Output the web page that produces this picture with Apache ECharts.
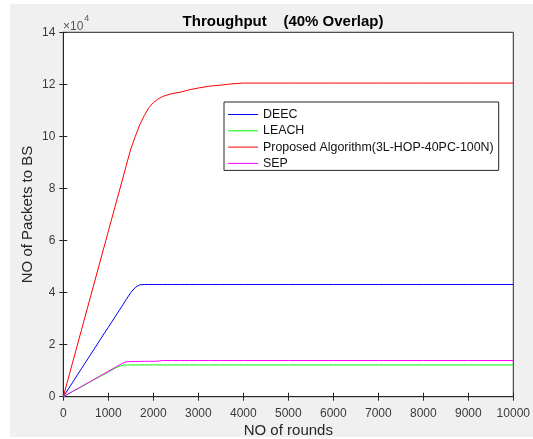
<!DOCTYPE html>
<html>
<head>
<meta charset="utf-8">
<script src="https://cdn.jsdelivr.net/npm/echarts@6/dist/echarts.min.js"></script>
<style>
html,body{margin:0;padding:0;background:#fff;}
#bg{position:absolute;left:10px;top:4px;width:523px;height:433px;background:#f0f0f0;}
#chart{position:absolute;left:0;top:0;width:533px;height:439px;}
</style>
</head>
<body>
<div id="bg"></div>
<div id="chart"></div>
<script>
const rounds = [0,200,400,600,800,1000,1200,1300,1400,1500,1600,1700,1800,1900,2000,2100,2200,2400,2600,2800,3000,3250,3500,3750,4000,5000,6000,7000,8000,9000,10000];
const deec = [0,5300,10700,16000,21400,26700,32000,34700,37400,40000,42000,43000,43100,43100,43100,43100,43100,43100,43100,43100,43100,43100,43100,43100,43100,43100,43100,43100,43100,43100,43100];
const leach = [0,1900,3800,5700,7600,9500,11400,12000,12200,12200,12200,12200,12200,12200,12200,12200,12200,12200,12200,12200,12200,12200,12200,12200,12200,12200,12200,12200,12200,12200,12200];
const proposed = [0,12700,25400,38100,50800,63500,76200,82500,88900,95200,100000,104500,108000,111000,113000,114300,115300,116400,117000,117900,118600,119300,119700,120200,120500,120500,120500,120500,120500,120500,120500];
const sep = [0,1950,3900,5850,7800,9750,11700,12700,13400,13500,13550,13550,13600,13600,13600,13650,13900,13900,13900,13900,13900,13900,13900,13900,13900,13900,13900,13900,13900,13900,13900];
const seriesNames = ['DEEC','LEACH','Proposed Algorithm(3L-HOP-40PC-100N)','SEP'];
const seriesColors = ['#0000ff','#00ff00','#ff0000','#ff00ff'];
const seriesValues = [deec, leach, proposed, sep];
const yScale = 10000;

const FONT = '"Liberation Sans", Arial, Helvetica, sans-serif';
const chart = echarts.init(document.getElementById('chart'), null, {renderer:'canvas'});
const axisColor = '#262626';
const labelColor = '#3a3a3a';

const option = {
  animation: false,
  backgroundColor: 'transparent',
  title: {
    text: 'Throughput    (40% Overlap)',
    left: 278, top: 9, textAlign: 'center',
    textStyle: {fontFamily: FONT, fontSize: 15, fontWeight: 'bold', color: '#000'}
  },
  graphic: [{
    type: 'text', left: 63, top: 14,
    style: {
      text: '{a|×10}{b|4}',
      rich: {
        a: {fontFamily: FONT, fontSize: 12, fill: '#555', padding:[7,0,0,0]},
        b: {fontFamily: FONT, fontSize: 9, fill: '#555', verticalAlign:'top', padding:[0,0,8,1]}
      }
    }
  }],
  legend: {
    orient: 'vertical',
    left: 224, top: 102,
    padding: [6.5, 5, 1, 4],
    itemGap: 4.3,
    itemWidth: 30, itemHeight: 12,
    icon: 'path://M0,0H30V1H0Z',
    symbolKeepAspect: true,
    backgroundColor: '#fff',
    borderColor: axisColor, borderWidth: 1,
    borderRadius: 0,
    textStyle: {fontFamily: FONT, fontSize: 12.4, color: '#111', padding:[0,0,0,0]},
    data: seriesNames
  },
  grid: {
    left: 63.3, top: 32.3, right: 19.7, bottom: 42.3,
    outerBoundsMode: 'none', containLabel: false,
    show: true, backgroundColor: '#fff', borderColor: axisColor, borderWidth: 1
  },
  xAxis: [{
    type: 'value', min: 0, max: 10000, interval: 1000,
    name: 'NO of rounds', nameLocation: 'middle', nameGap: 27, nameMoveOverlap: false,
    nameTextStyle: {fontFamily: FONT, fontSize: 15, color: '#262626'},
    axisLine: {show: true, lineStyle: {color: axisColor}},
    axisTick: {show: true, inside: true, length: 4, lineStyle: {color: axisColor}},
    axisLabel: {fontFamily: FONT, fontSize: 12, color: labelColor, margin: 11,
      formatter: v => String(v)},
    splitLine: {show: false}
  }, {
    type: 'value', min: 0, max: 10000, interval: 1000, position: 'top',
    axisLine: {show: true, lineStyle: {color: axisColor}},
    axisTick: {show: true, inside: true, length: 4, lineStyle: {color: axisColor}},
    axisLabel: {show: false}, splitLine: {show: false}
  }],
  yAxis: [{
    type: 'value', min: 0, max: 140000, interval: 20000,
    name: 'NO of Packets to BS', nameLocation: 'middle', nameGap: 28, nameMoveOverlap: false,
    nameTextStyle: {fontFamily: FONT, fontSize: 15, color: '#262626'},
    axisLine: {show: true, lineStyle: {color: axisColor}},
    axisTick: {show: true, inside: true, length: 4, lineStyle: {color: axisColor}},
    axisLabel: {fontFamily: FONT, fontSize: 12, color: labelColor, margin: 8,
      formatter: v => String(v / yScale)},
    splitLine: {show: false}
  }, {
    type: 'value', min: 0, max: 140000, interval: 20000, position: 'right',
    axisLine: {show: true, lineStyle: {color: axisColor}},
    axisTick: {show: true, inside: true, length: 4, lineStyle: {color: axisColor}},
    axisLabel: {show: false}, splitLine: {show: false}
  }],
  series: seriesNames.map((n, i) => ({
    name: n, type: 'line',
    data: rounds.map((r, j) => [r, seriesValues[i][j]]),
    symbol: 'none', smooth: false,
    lineStyle: {color: seriesColors[i], width: 1},
    itemStyle: {color: seriesColors[i]},
    xAxisIndex: 0, yAxisIndex: 0
  }))
};
chart.setOption(option);
</script>
</body>
</html>
